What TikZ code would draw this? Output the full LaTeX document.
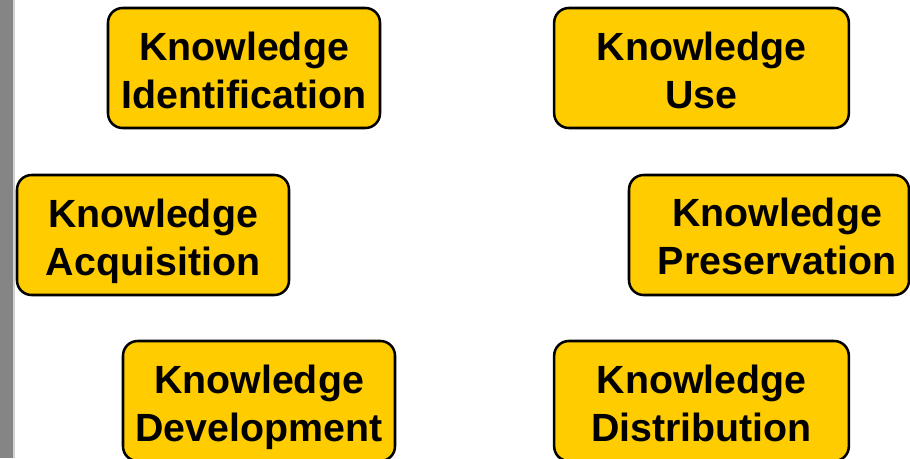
\documentclass[tikz,border=0pt]{standalone}
\usepackage{fontspec}
\setmainfont{Liberation Sans}
\definecolor{kyellow}{HTML}{FFCC00}
\definecolor{bargray}{HTML}{858585}
\tikzset{
  kbox/.style={draw=black, fill=kyellow, line width=1.9pt, rounded corners=11pt,
    minimum height=90pt, align=center, inner sep=0pt,
    text height=60.5pt, text depth=0pt,
    font=\fontsize{29.5}{36}\selectfont\bfseries},
  ktext/.style={align=center, inner sep=0pt, text depth=0pt,
    font=\fontsize{29.5}{36}\selectfont\bfseries}
}
\begin{document}
\begin{tikzpicture}[x=0.75pt,y=-0.75pt]
        \clip (0,0) rectangle (910,458);
        \useasboundingbox (0,0) rectangle (910,458);
        \fill[white] (0,0) rectangle (910,458);
        % side bar on the left
        \fill[bargray] (0,0) rectangle (13,458);
        \fill[gray!35] (13,0) rectangle (15,458);

        % the six process boxes
        \node[kbox, minimum width=204pt] (ident) at (244,68) {Knowledge\\Identification};
        \node[kbox, minimum width=221pt] (use) at (701.5,68) {Knowledge\\Use};
        \node[kbox, minimum width=204pt] (acq) at (153,235) {Knowledge\\Acquisition};
        % preservation: text sits a bit right of the box centre
        \node[kbox, minimum width=210pt] (pres) at (769,235) {};
        \node[ktext] (prestext) at (777,236) {Knowledge\\Preservation};
        \node[kbox, minimum width=204pt] (dev) at (259,401) {Knowledge\\Development};
        \node[kbox, minimum width=221pt] (dist) at (701.5,401) {Knowledge\\Distribution};
\end{tikzpicture}
\end{document}
